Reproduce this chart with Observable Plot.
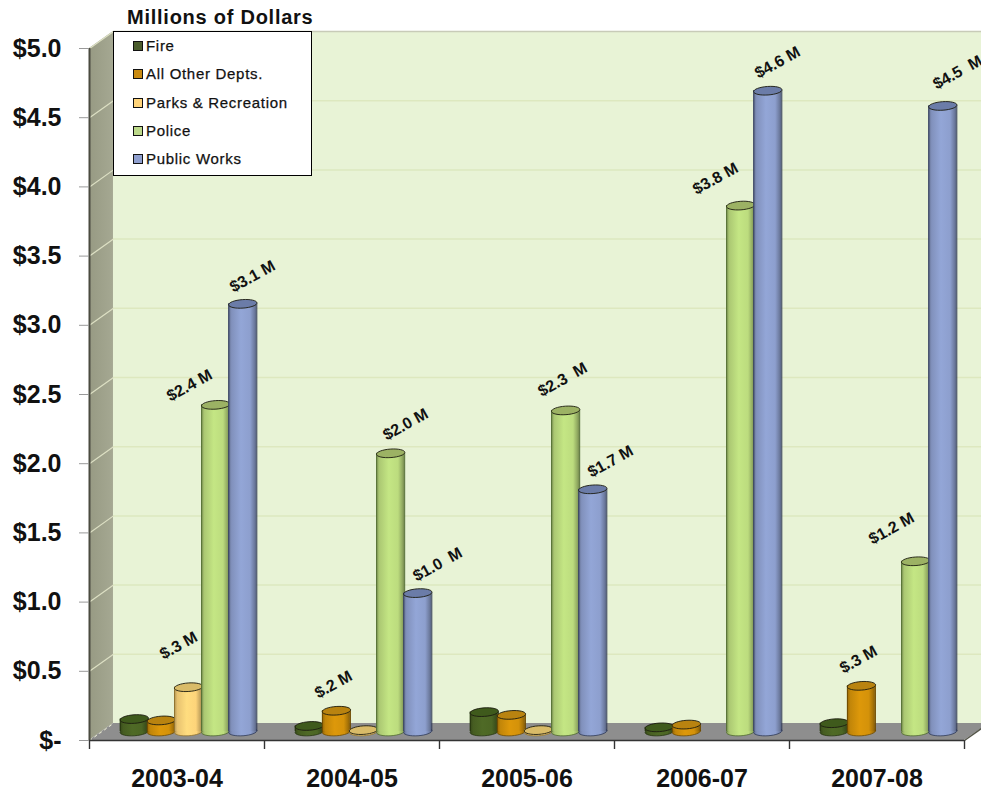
<!DOCTYPE html>
<html><head><meta charset="utf-8">
<script src="https://cdn.jsdelivr.net/npm/d3@7"></script>
<script src="https://cdn.jsdelivr.net/npm/@observablehq/plot@0.6"></script>
<style>
html,body{margin:0;padding:0;background:#fff;overflow:hidden}
#wrap{position:relative;width:981px;height:791px;font-family:"Liberation Sans",Arial,sans-serif}
#wrap svg{position:absolute;left:0;top:0;display:block}
#title{position:absolute;left:127px;top:6px;font-size:20px;font-weight:bold;letter-spacing:.75px;color:#111;line-height:22px;white-space:nowrap}
#legend{position:absolute;left:113px;top:31px;width:197px;height:143px;background:#fff;border:1px solid #000;box-sizing:content-box}
#legend .r{position:absolute;left:19px;font-size:15px;letter-spacing:.7px;color:#111;line-height:16px;white-space:nowrap;-webkit-text-stroke:.25px #111}
#legend i{display:inline-block;width:8px;height:8px;border:1px solid #111;margin-right:3px;vertical-align:0}
</style></head><body><div id="wrap"></div>
<script>
const years = ["2003-04","2004-05","2005-06","2006-07","2007-08"];
const departments = ["Fire","All Other Depts.","Parks & Recreation","Police","Public Works"];
const fire   = [0.09, 0.04, 0.14, 0.03, 0.06];
const other  = [0.08, 0.15, 0.12, 0.05, 0.33];
const parks  = [0.32, 0.01, 0.01, null, null];
const police = [2.36, 2.01, 2.32, 3.80, 1.23];
const works  = [3.09, 1.00, 1.75, 4.63, 4.52];
const seriesValues = [fire, other, parks, police, works];

const bodyColors = ["#4c6624","#d4920a","#fdd47a","#bcdc7e","#8d9fce"];
const edgeColors = ["#26350f","#6f4b00","#8f7230","#4f6a30","#2f3a58"];
const topColors  = ["#3f5a1c","#b98310","#d9bb68","#9cb264","#6b7ca8"];
const legendColors = ["#4a5c2c","#c98a10","#ffd47a","#bcd98a","#8f9fcf"];

const labelTexts = ["$.3 M","$2.4 M","$3.1 M","$.2 M","$2.0 M","$1.0\u00a0 M","$2.3\u00a0 M","$1.7 M","$3.8 M","$4.6 M","$.3 M","$1.2 M","$4.5\u00a0 M"];
const labelCat   = [0.509,0.571,0.931,1.394,1.806,1.989,2.703,2.977,3.577,3.931,4.394,4.583,4.96];
const labelVal   = [0.686,2.565,3.353,0.405,2.283,1.272,2.608,2.016,4.06,4.899,0.585,1.532,4.827];

const axisTicks = [0,0.5,1,1.5,2,2.5,3,3.5,4,4.5,5];
const catTicks = [0,1,2,3,4,5];
const depthX = 0.137, depthY = 0.123, rightEdge = 5.4;
const barStart = 0.256, barStep = 0.155, barHalf = 0.08;
const baseLift = -9;

const sideWall = [{x:0,y1:0,y2:5},{x:depthX,y1:depthY,y2:5+depthY}];
const floorPts = [{x:0,y1:0,y2:0},{x:depthX,y1:0,y2:depthY},{x:5,y1:0,y2:depthY},{x:5+depthX,y1:depthY,y2:depthY}];

const ellipse = {draw(c,size){
  const r=Math.sqrt(size/Math.PI), q=r*0.3, k=0.5523, t=-0.07;
  const P=(x,y)=>[x*Math.cos(t)-y*Math.sin(t), x*Math.sin(t)+y*Math.cos(t)];
  const C=(a,b,d,e,f,g)=>c.bezierCurveTo(...P(a,b),...P(d,e),...P(f,g));
  c.moveTo(...P(-r,0));
  C(-r,-q*k,-r*k,-q,0,-q);
  C(r*k,-q,r,-q*k,r,0);
  C(r,q*k,r*k,q,0,q);
  C(-r*k,q,-r,q*k,-r,0);
  c.closePath();
}};

const defs = () => {
  const d = d3.create("svg:defs");
  bodyColors.forEach((col,i)=>{
    const g=d.append("linearGradient").attr("id","body"+i);
    [[0,d3.color(col).darker(1)],[.12,d3.color(col).darker(.25)],[.45,d3.color(col).brighter(.12)],[.78,col],[.93,d3.color(col).darker(.7)],[1,d3.color(col).darker(1.3)]]
      .forEach(([o,c])=>g.append("stop").attr("offset",o).attr("stop-color",c));
  });
  const w=d.append("linearGradient").attr("id","side");
  [[0,"#979a83"],[1,"#a5a892"]].forEach(([o,c])=>w.append("stop").attr("offset",o).attr("stop-color",c));
  return d.node();
};

const cylinders = seriesValues.flatMap((vals,s)=>{
  const rows = vals.map((v,i)=>({i,v})).filter(d=>d.v!=null);
  const cx = d=>d.i+barStart+s*barStep;
  return [
    Plot.dot(rows,{x:cx,y:()=>0,r:14.2,symbol:ellipse,dy:baseLift,fill:`url(#body${s})`,stroke:edgeColors[s],strokeWidth:0.8}),
    Plot.rect(rows,{x1:d=>cx(d)-barHalf,x2:d=>cx(d)+barHalf,y1:()=>0,y2:d=>d.v,dy:baseLift,fill:`url(#body${s})`}),
    Plot.ruleX(rows,{x:d=>cx(d)-barHalf,y1:()=>0,y2:d=>d.v,dy:baseLift,stroke:edgeColors[s],strokeWidth:1}),
    Plot.ruleX(rows,{x:d=>cx(d)+barHalf,y1:()=>0,y2:d=>d.v,dy:baseLift,stroke:edgeColors[s],strokeWidth:1}),
    Plot.dot(rows,{x:cx,y:d=>d.v,r:14.2,symbol:ellipse,dy:baseLift,fill:topColors[s],stroke:"#1c1c10",strokeWidth:0.9})
  ];
});

const chart = Plot.plot({
  width:981,height:791,marginLeft:89,marginRight:17,marginTop:48,marginBottom:51,
  style:{background:"transparent",fontFamily:"'Liberation Sans',Arial,sans-serif",overflow:"hidden"},
  x:{type:"linear",domain:[0,5],axis:null},
  y:{domain:[0,5],axis:null},
  marks:[
    defs,
    Plot.rect([0],{x1:()=>depthX,x2:()=>rightEdge,y1:()=>depthY,y2:()=>5+depthY,fill:"#e8f3d6"}),
    Plot.areaY(sideWall,{x:"x",y1:"y1",y2:"y2",fill:"url(#side)"}),
    Plot.ruleY(axisTicks.slice(1,10),{x1:depthX,x2:rightEdge,y:d=>d+depthY,stroke:"#dde8bf",strokeWidth:1.5}),
    Plot.ruleY([5],{x1:depthX,x2:rightEdge,y:d=>d+depthY,stroke:"#c8cbb8",strokeWidth:1.5}),
    Plot.link(axisTicks.slice(1),{x1:()=>0,x2:()=>depthX,y1:d=>d,y2:d=>d+depthY,stroke:"#dde0c4",strokeWidth:1.2}),
    Plot.areaY(floorPts,{x:"x",y1:"y1",y2:"y2",fill:"#8e8e8e"}),
    Plot.link([0],{x1:()=>0,x2:()=>depthX,y1:()=>0,y2:()=>depthY,stroke:"#eef0d4",strokeWidth:1,strokeDasharray:"3,3"}),
    Plot.ruleX([0],{y1:0,y2:5,stroke:"#4a4b40",strokeWidth:2}),
    Plot.link([0],{x1:()=>5,x2:()=>5+depthX,y1:()=>0,y2:()=>depthY,stroke:"#55564a",strokeWidth:1.5}),
    ...cylinders,
    Plot.ruleY([0],{x1:0,x2:5,stroke:"#333",strokeWidth:1.6}),
    Plot.axisX({ticks:catTicks,tickFormat:()=>"",tickSize:9,label:null,stroke:"#333",strokeWidth:1.4}),
    Plot.axisY({ticks:axisTicks,tickFormat:d=>d?"$"+d.toFixed(1):"$-",tickSize:10,tickPadding:18,label:null,fontSize:25,fontWeight:"bold",fill:"#111",stroke:"#999"}),
    Plot.text(years,{x:(d,i)=>i+0.5,y:()=>0,dy:38,text:d=>d,fontSize:25,fontWeight:"bold",fill:"#111"}),
    Plot.text(labelTexts,{x:(d,i)=>labelCat[i],y:(d,i)=>labelVal[i],text:d=>d,rotate:-29,fontSize:16,fontWeight:"bold",fill:"#111"})
  ]
});
const wrap=document.getElementById("wrap");
wrap.appendChild(chart);
const t=document.createElement("div");t.id="title";t.textContent="Millions of Dollars";wrap.appendChild(t);
const l=document.createElement("div");l.id="legend";
departments.forEach((n,i)=>{
  const r=document.createElement("div");r.className="r";r.style.top=(6+i*28.3)+"px";
  const k=document.createElement("i");k.style.background=legendColors[i];
  r.appendChild(k);r.appendChild(document.createTextNode(n));l.appendChild(r);
});
wrap.appendChild(l);
</script></body></html>
